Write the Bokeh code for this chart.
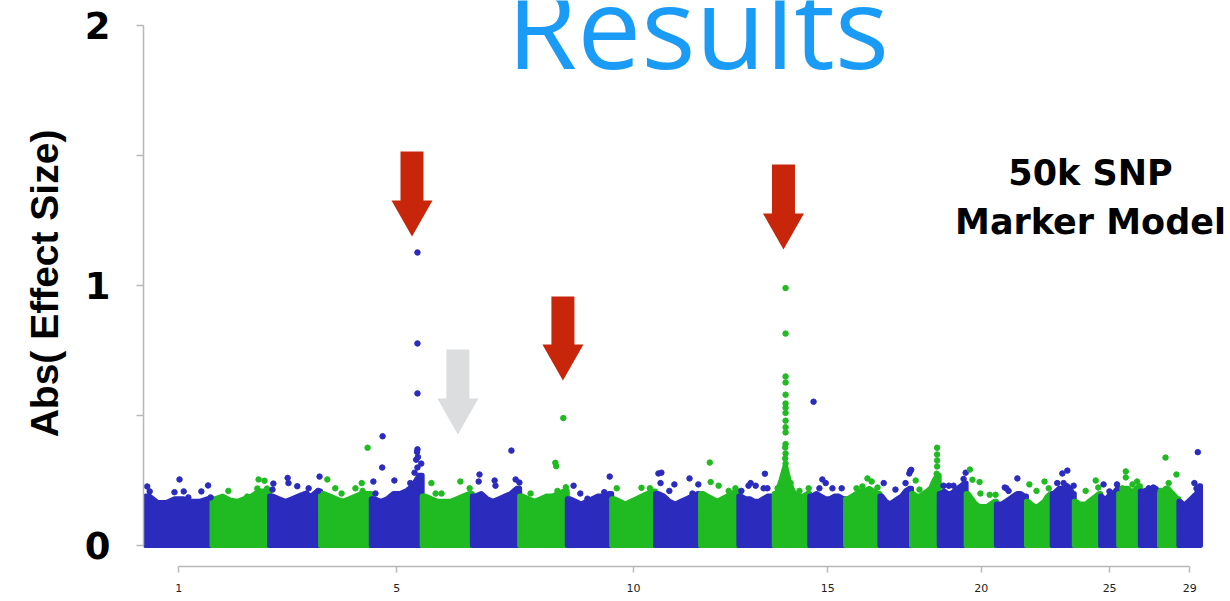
import numpy as np
from bokeh.plotting import figure
from bokeh.models import FixedTicker, Label, Range1d
from bokeh.embed import file_html
from bokeh.resources import INLINE

# ---------------- data ----------------
chrom_names = [str(i) for i in range(1, 30)]
# chromosome lengths (Mb)
chrom_len = [158.3, 137.1, 121.4, 120.7, 121.2, 119.5, 112.6, 113.4, 105.7, 104.3,
             107.3, 91.2, 84.2, 84.6, 85.3, 81.7, 75.2, 66.0, 64.1, 72.0,
             71.6, 61.4, 52.5, 62.7, 42.9, 51.7, 45.4, 46.3, 51.5]

# top of the dense SNP band in 8 equal bins per chromosome (abs effect size)
envelope = [
    [0.19, 0.165, 0.165, 0.18, 0.18, 0.17, 0.17, 0.18],
    [0.18, 0.19, 0.175, 0.17, 0.18, 0.19, 0.21, 0.21],
    [0.19, 0.18, 0.17, 0.18, 0.19, 0.20, 0.19, 0.21],
    [0.20, 0.19, 0.18, 0.17, 0.18, 0.19, 0.20, 0.20],
    [0.18, 0.17, 0.18, 0.20, 0.20, 0.21, 0.23, 0.27],
    [0.19, 0.18, 0.17, 0.17, 0.17, 0.18, 0.19, 0.20],
    [0.19, 0.20, 0.18, 0.17, 0.18, 0.19, 0.20, 0.22],
    [0.19, 0.18, 0.17, 0.18, 0.19, 0.19, 0.20, 0.21],
    [0.18, 0.17, 0.16, 0.17, 0.18, 0.19, 0.19, 0.20],
    [0.18, 0.17, 0.16, 0.17, 0.18, 0.19, 0.20, 0.21],
    [0.20, 0.19, 0.17, 0.16, 0.17, 0.18, 0.19, 0.20],
    [0.20, 0.19, 0.18, 0.17, 0.18, 0.19, 0.20, 0.21],
    [0.19, 0.18, 0.18, 0.17, 0.17, 0.18, 0.19, 0.19],
    [0.20, 0.25, 0.31, 0.24, 0.20, 0.19, 0.19, 0.20],
    [0.19, 0.20, 0.19, 0.18, 0.18, 0.19, 0.19, 0.18],
    [0.18, 0.19, 0.20, 0.21, 0.21, 0.22, 0.21, 0.20],
    [0.19, 0.17, 0.16, 0.17, 0.18, 0.19, 0.21, 0.22],
    [0.20, 0.19, 0.19, 0.20, 0.21, 0.22, 0.25, 0.27],
    [0.20, 0.21, 0.20, 0.20, 0.21, 0.22, 0.23, 0.24],
    [0.20, 0.18, 0.16, 0.15, 0.15, 0.15, 0.16, 0.17],
    [0.16, 0.16, 0.17, 0.18, 0.19, 0.20, 0.20, 0.19],
    [0.17, 0.16, 0.15, 0.15, 0.16, 0.17, 0.19, 0.20],
    [0.20, 0.21, 0.22, 0.22, 0.22, 0.23, 0.22, 0.20],
    [0.17, 0.16, 0.16, 0.16, 0.17, 0.18, 0.19, 0.20],
    [0.19, 0.18, 0.18, 0.19, 0.20, 0.20, 0.21, 0.22],
    [0.20, 0.21, 0.22, 0.22, 0.21, 0.21, 0.22, 0.23],
    [0.21, 0.20, 0.19, 0.20, 0.21, 0.22, 0.22, 0.21],
    [0.20, 0.21, 0.22, 0.22, 0.21, 0.20, 0.19, 0.18],
    [0.17, 0.16, 0.16, 0.17, 0.18, 0.19, 0.20, 0.23],
]

# individual SNPs standing above the band: chromosome, position (Mb), abs effect
out_chrom = ([1]*9 + [2]*6 + [3]*9 + [4]*7 + [5]*17 + [6]*5 + [7]*7 + [8]*6 + [9]*5 + [10]*3
             + [11]*8 + [12]*5 + [13]*7 + [14]*22 + [15]*6 + [16]*5 + [17]*6 + [18]*8 + [19]*5
             + [20]*6 + [21]*4 + [22]*4 + [23]*5 + [24]*3 + [25]*3 + [26]*5 + [27]*3 + [28]*4 + [29]*3)
out_pos = [4, 10, 69, 81, 91, 102, 133, 149, 155,
           39, 84, 108, 111, 125, 131,
           7, 9, 43, 45, 66, 88, 93, 116, 119,
           16, 35, 50, 83, 98, 100, 112,
           5, 10, 26, 27, 55, 93, 103, 107, 109, 110, 110, 110, 110, 110, 111, 115, 119,
           22, 32, 46, 91, 113,
           15, 17, 53, 55, 93, 103, 112,
           26, 85, 87, 90, 104, 110,
           15, 31, 48, 88, 101,
           12, 71, 91,
           7, 12, 14, 33, 45, 81, 88, 102,
           22, 24, 43, 67, 83,
           6, 23, 28, 40, 59, 62, 68,
           8, 27, 27, 27, 27, 27, 27, 27, 27, 27, 27, 27, 27, 26, 27, 26, 27, 25, 28, 39, 60, 82,
           9, 23, 30, 38, 54, 76,
           26, 40, 52, 62, 76,
           9, 37, 61, 70, 72, 74.5,
           10, 19, 61, 61, 61, 61, 60, 59,
           10, 23, 34, 58, 63,
           9, 15, 32, 34, 56, 70,
           20, 24, 29, 50,
           7, 24, 43, 53,
           12, 24, 27, 36, 51,
           27, 51, 57,
           7, 21, 39,
           9, 17, 17, 33, 44,
           12, 20, 31,
           3, 14.5, 22, 40.5,
           37, 42, 45]
out_val = [0.227, 0.208, 0.205, 0.254, 0.208, 0.185, 0.208, 0.231, 0.185,
           0.21, 0.188, 0.219, 0.254, 0.249, 0.219,
           0.215, 0.238, 0.26, 0.24, 0.228, 0.20, 0.22, 0.21, 0.265,
           0.254, 0.22, 0.20, 0.22, 0.24, 0.21, 0.376,
           0.246, 0.20, 0.30, 0.42, 0.25, 0.24, 0.28, 0.33, 0.36, 0.30, 0.37, 0.585, 0.777, 1.127, 0.34, 0.254, 0.315,
           0.24, 0.20, 0.20, 0.246, 0.22,
           0.246, 0.273, 0.25, 0.23, 0.365, 0.254, 0.242,
           0.20, 0.318, 0.305, 0.21, 0.49, 0.224,
           0.23, 0.20, 0.18, 0.205, 0.265,
           0.22, 0.222, 0.22,
           0.277, 0.24, 0.28, 0.21, 0.235, 0.258, 0.20, 0.235,
           0.319, 0.244, 0.23, 0.21, 0.22,
           0.21, 0.23, 0.24, 0.23, 0.22, 0.276, 0.22,
           0.22, 0.99, 0.815, 0.65, 0.627, 0.58, 0.546, 0.53, 0.51, 0.48, 0.455, 0.435, 0.39, 0.377, 0.354, 0.335, 0.315, 0.29, 0.26, 0.24, 0.21, 0.22,
           0.553, 0.22, 0.254, 0.24, 0.22, 0.22,
           0.22, 0.227, 0.258, 0.246, 0.223,
           0.24, 0.215, 0.24, 0.277, 0.286, 0.291,
           0.25, 0.215, 0.376, 0.35, 0.327, 0.304, 0.276, 0.258,
           0.23, 0.23, 0.23, 0.256, 0.28,
           0.292, 0.253, 0.244, 0.20, 0.195, 0.195,
           0.223, 0.22, 0.21, 0.258,
           0.235, 0.21, 0.246, 0.22,
           0.24, 0.277, 0.24, 0.288, 0.23,
           0.21, 0.25, 0.223,
           0.235, 0.208, 0.235,
           0.22, 0.285, 0.262, 0.235, 0.246,
           0.21, 0.22, 0.223,
           0.21, 0.338, 0.24, 0.273,
           0.24, 0.22, 0.359]

x_tick_chroms = [1, 5, 10, 15, 20, 25, 29]
y_ticks = [0, 0.5, 1, 1.5, 2]
y_tick_labels = ["0", "", "1", "", "2"]

# arrow annotations: chromosome, position (Mb), tip and top (effect units)
arrow_chrom = [5, 8, 14, 6]
arrow_pos = [97, 103, 22, 85]
arrow_tip = [1.188, 0.635, 1.138, 0.427]
arrow_top = [1.515, 0.958, 1.465, 0.754]

# ---------------- styling / layout ----------------
BLUE = "#2b2bbd"
GREEN = "#20bb22"
RED = "#c8260b"
GREY_ARROW = "#dcdddf"
AXIS_GREY = "#b8b8b8"

fig_w, fig_h = 1228, 600
b_left, b_right, b_top, b_bottom = 143, 4, 0, 34
frame_w = fig_w - b_left - b_right
frame_h = fig_h - b_top - b_bottom
genome = float(sum(chrom_len))
px_x = 1055.0 / genome          # pixels per Mb
px_y = 260.0                    # pixels per effect unit
x_lo = -2.0 / px_x
x_hi = x_lo + frame_w / px_x
y_hi = 545.0 / px_y
y_lo = y_hi - frame_h / px_y


def page_x(px):
    return x_lo + px / px_x - b_left / px_x


def page_y(py):
    return y_hi - py / px_y


starts = np.concatenate([[0.0], np.cumsum(chrom_len)[:-1]])
mids = starts + np.array(chrom_len) / 2.0
chrom_color = [BLUE if i % 2 == 0 else GREEN for i in range(len(chrom_len))]

p = figure(width=fig_w, height=fig_h, x_range=Range1d(x_lo, x_hi), y_range=Range1d(y_lo, y_hi),
           output_backend="svg", toolbar_location=None,
           min_border_left=b_left, min_border_right=b_right,
           min_border_top=b_top, min_border_bottom=b_bottom)
p.grid.visible = False
p.outline_line_color = None
p.background_fill_color = "white"
p.border_fill_color = "white"

# dense bands
band_xs, band_ys = [], []
for i, L in enumerate(chrom_len):
    env = envelope[i]
    n = len(env)
    s = starts[i]
    bx = [s + (k + 0.5) * L / n for k in range(n)]
    band_xs.append([s, s] + bx + [s + L, s + L])
    band_ys.append([0.0, env[0]] + list(env) + [env[-1], 0.0])
p.patches(band_xs, band_ys, fill_color=chrom_color, line_color=chrom_color,
          line_width=5, line_join="round")

# individual points
ox = [starts[c - 1] + pos for c, pos in zip(out_chrom, out_pos)]
ocol = [chrom_color[c - 1] for c in out_chrom]
p.scatter(x=ox, y=out_val, size=5.5, fill_color=ocol, line_color=ocol)

# arrows
sh = 11.5 / px_x
hh = 20.5 / px_x
hl = 36.0 / px_y
a_xs, a_ys, a_col = [], [], []
for k in range(len(arrow_chrom)):
    x = starts[arrow_chrom[k] - 1] + arrow_pos[k]
    tip, top = arrow_tip[k], arrow_top[k]
    base = tip + hl
    a_xs.append([x - sh, x - sh, x - hh, x, x + hh, x + sh, x + sh])
    a_ys.append([top, base, base, tip, base, base, top])
    a_col.append(GREY_ARROW if k == 3 else RED)
p.patches(a_xs, a_ys, fill_color=a_col, line_color=None)

# x axis
xt = [round(float(mids[c - 1]), 2) for c in x_tick_chroms]
xa = p.xaxis[0]
xa.ticker = FixedTicker(ticks=xt)
xa.major_label_overrides = {t: chrom_names[c - 1] for t, c in zip(xt, x_tick_chroms)}
xa.bounds = (xt[0], xt[-1])
xa.axis_line_color = AXIS_GREY
xa.axis_line_width = 1.5
xa.major_tick_line_color = AXIS_GREY
xa.major_tick_line_width = 1.5
xa.major_tick_out = 6
xa.major_tick_in = 0
xa.minor_tick_line_color = None
xa.major_label_text_font = "DejaVu Sans"
xa.major_label_text_font_size = "11px"
xa.major_label_text_color = "#222222"
xa.major_label_standoff = 11

# y axis
ya = p.yaxis[0]
ya.ticker = FixedTicker(ticks=y_ticks)
ya.major_label_overrides = {t: l for t, l in zip(y_ticks, y_tick_labels)}
ya.bounds = (0, 2)
ya.axis_line_color = AXIS_GREY
ya.axis_line_width = 1.5
ya.major_tick_line_color = AXIS_GREY
ya.major_tick_line_width = 1.5
ya.major_tick_out = 7
ya.major_tick_in = 0
ya.minor_tick_line_color = None
ya.major_label_text_font = "DejaVu Sans"
ya.major_label_text_font_style = "bold"
ya.major_label_text_font_size = "37px"
ya.major_label_text_color = "black"
ya.major_label_standoff = 26
ya.axis_label = "Abs( Effect Size)"
ya.axis_label_text_font = "Liberation Sans"
ya.axis_label_text_font_style = "bold"
ya.axis_label_text_font_size = "39px"
ya.axis_label_text_color = "black"
ya.axis_label_standoff = 16

# texts (y given slightly above the wanted baseline: the renderer drops the
# alphabetic baseline by ~0.39 em)
p.add_layout(Label(x=page_x(697.5), y=page_y(68 - 0.39 * 114), text="Results",
                   text_font="Open Sans", text_font_size="114px", text_color="#1a9bf5",
                   text_align="center", text_baseline="alphabetic"))
p.add_layout(Label(x=page_x(1090), y=page_y(185 - 0.36 * 35), text="50k SNP",
                   text_font="DejaVu Sans", text_font_style="bold", text_font_size="35px",
                   text_color="black", text_align="center", text_baseline="alphabetic"))
p.add_layout(Label(x=page_x(1090), y=page_y(234 - 0.36 * 35), text="Marker Model",
                   text_font="DejaVu Sans", text_font_style="bold", text_font_size="35px",
                   text_color="black", text_align="center", text_baseline="alphabetic"))

open("out.html", "w").write(file_html(p, INLINE))
